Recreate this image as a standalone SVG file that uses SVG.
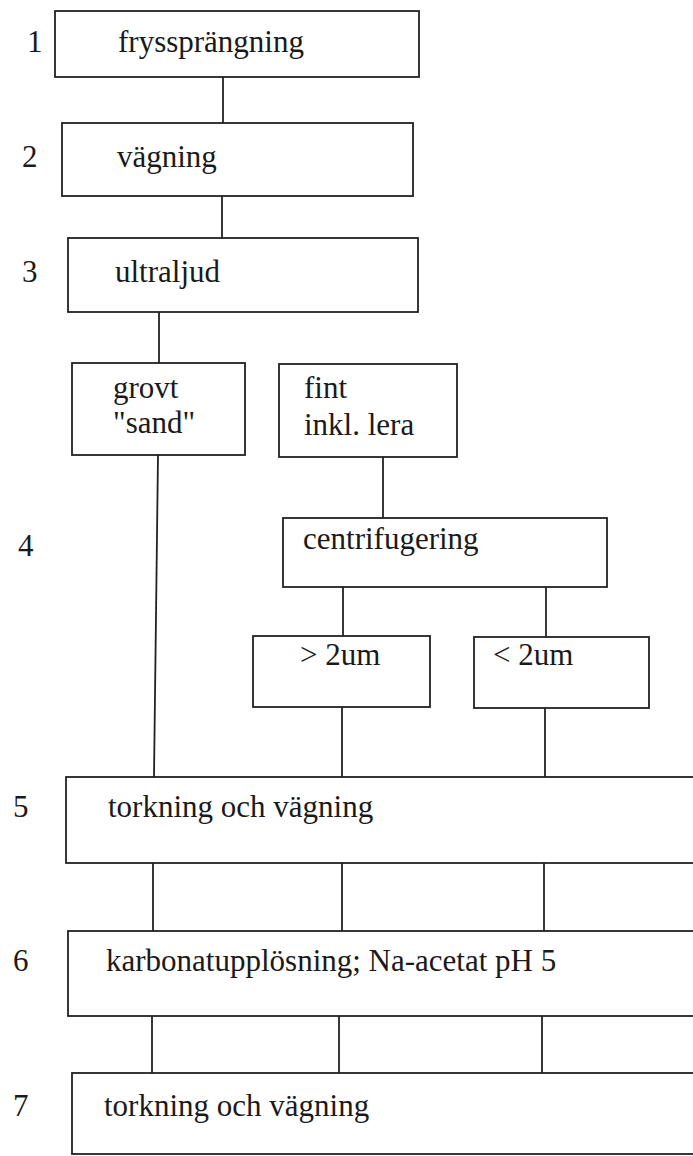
<svg xmlns="http://www.w3.org/2000/svg" width="693" height="1156" viewBox="0 0 693 1156" font-family="'Liberation Serif', 'Times New Roman', serif">
<style>
.box{fill:#fff;stroke:#222;stroke-width:1.8}
.ln{stroke:#222;stroke-width:1.8;fill:none}
text{font-family:'Liberation Serif','Times New Roman',serif;font-size:31px;fill:#1a1a1a}
</style>
<rect width="693" height="1156" fill="#fff"/>
<g id="connectors">
<line class="ln" x1="223" y1="77" x2="223" y2="123"/>
<line class="ln" x1="222" y1="196" x2="222" y2="238"/>
<line class="ln" x1="159" y1="312" x2="159" y2="363"/>
<line class="ln" x1="158" y1="455" x2="154" y2="777"/>
<line class="ln" x1="383" y1="457" x2="383" y2="518"/>
<line class="ln" x1="343" y1="587" x2="343" y2="636"/>
<line class="ln" x1="546" y1="587" x2="546" y2="637"/>
<line class="ln" x1="342" y1="707" x2="342" y2="777"/>
<line class="ln" x1="545" y1="708" x2="545" y2="777"/>
<line class="ln" x1="153" y1="863" x2="153" y2="931"/>
<line class="ln" x1="342" y1="863" x2="342" y2="931"/>
<line class="ln" x1="544" y1="863" x2="544" y2="931"/>
<line class="ln" x1="152" y1="1016" x2="152" y2="1073"/>
<line class="ln" x1="339" y1="1016" x2="339" y2="1073"/>
<line class="ln" x1="542" y1="1016" x2="542" y2="1073"/>
</g>
<g id="labels">
<text x="27" y="52">1</text>
<text x="22" y="167">2</text>
<text x="22" y="282">3</text>
<text x="18" y="556">4</text>
<text x="13" y="817">5</text>
<text x="13" y="971">6</text>
<text x="13" y="1116">7</text>
</g>
<g id="n1"><rect class="box" x="55" y="11" width="364" height="66"/><text x="118" y="52">fryssprängning</text></g>
<g id="n2"><rect class="box" x="62" y="123" width="351" height="73"/><text x="117" y="167">vägning</text></g>
<g id="n3"><rect class="box" x="68" y="238" width="350" height="74"/><text x="115" y="282">ultraljud</text></g>
<g id="n4a"><rect class="box" x="72" y="363" width="173" height="92"/><text x="113" y="398">grovt</text><text x="113" y="433">"sand"</text></g>
<g id="n4b"><rect class="box" x="279" y="364" width="178" height="93"/><text x="304" y="398">fint</text><text x="304" y="435">inkl. lera</text></g>
<g id="n4c"><rect class="box" x="283" y="518" width="324" height="69"/><text x="303" y="549">centrifugering</text></g>
<g id="n4d"><rect class="box" x="253" y="636" width="177" height="71"/><text x="300" y="665">&gt; 2um</text></g>
<g id="n4e"><rect class="box" x="474" y="637" width="175" height="71"/><text x="493" y="665">&lt; 2um</text></g>
<g id="n5"><rect class="box" x="66" y="777" width="640" height="86"/><text x="108" y="817">torkning och vägning</text></g>
<g id="n6"><rect class="box" x="68" y="931" width="640" height="85"/><text x="106" y="971">karbonatupplösning; Na-acetat pH 5</text></g>
<g id="n7"><rect class="box" x="72" y="1073" width="640" height="81"/><text x="104" y="1116">torkning och vägning</text></g>
</svg>
